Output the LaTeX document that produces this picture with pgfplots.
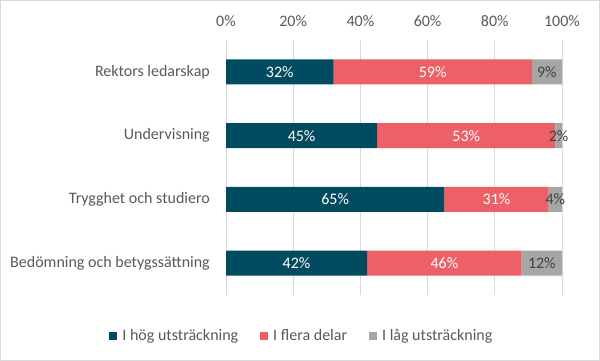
\documentclass[border=0pt]{standalone}
\usepackage{pgfplots}
\pgfplotsset{compat=1.18}
\usepackage{fontspec}
\setmainfont{Carlito}
\definecolor{cteal}{RGB}{0,75,95}
\definecolor{cred}{RGB}{238,96,103}
\definecolor{cgray}{RGB}{166,166,166}
\definecolor{ctext}{RGB}{89,89,89}
\definecolor{cgrid}{RGB}{217,217,217}
\pgfplotsset{
  common/.style={
    at={(226bp,66bp)}, anchor=south west, scale only axis,
    width=336bp, height=255bp,
    xmin=0, xmax=100, ymin=-0.5, ymax=3.5, y dir=reverse,
  }
}
\begin{document}
\fontsize{16bp}{19bp}\selectfont
\begin{tikzpicture}
\useasboundingbox (0,0) rectangle (600bp,361bp);
\draw[cgrid, line width=1bp] (0.5bp,0.5bp) rectangle (599.5bp,360.5bp);
\begin{axis}[common,
  xbar stacked, bar width=25bp,
  xtick={0,20,40,60,80,100},
  xticklabel={\pgfmathprintnumber{\tick}\%},
  xticklabel pos=upper,
  ytick={0,1,2,3},
  yticklabels={Rektors ledarskap,Undervisning,Trygghet och studiero,Bedömning och betygssättning},
  xmajorgrids, grid style={cgrid, line width=1bp},
  axis line style={draw=none},
  major tick length=0pt,
  tick label style={ctext, font=\fontsize{16bp}{19bp}\selectfont},
  /pgf/number format/assume math mode=true,
  xticklabel style={inner sep=0pt, yshift=13bp},
  yticklabel style={inner sep=0pt, xshift=-16bp},
  legend style={at={(0.226,-0.16)}, anchor=center, draw=none, fill=none,
    legend columns=3, font=\fontsize{16bp}{19bp}\selectfont, text=ctext,
    /tikz/every even column/.append style={column sep=20bp},
    legend cell align=left, inner sep=0pt},
  legend image code/.code={\fill[#1] (0bp,-4bp) rectangle (8bp,4bp); \path (11bp,0bp);},
]
\addplot[fill=cteal, draw=none] coordinates {(32,0) (45,1) (65,2) (42,3)};
\addplot[fill=cred, draw=none] coordinates {(59,0) (53,1) (31,2) (46,3)};
\addplot[fill=cgray, draw=none] coordinates {(9,0) (2,1) (4,2) (12,3)};
\legend{I hög utsträckning, I flera delar, I låg utsträckning}
\end{axis}
\begin{axis}[common, hide axis]
\addplot[draw=none, mark=none, nodes near coords, point meta=explicit symbolic,
  every node near coord/.append style={anchor=center, white, font=\fontsize{16bp}{19bp}\selectfont}]
  table[meta=l] {
x y l
16 0 32\%
22.5 1 45\%
32.5 2 65\%
21 3 42\%
61.5 0 59\%
71.5 1 53\%
80.5 2 31\%
65 3 46\%
};
\addplot[draw=none, mark=none, nodes near coords, point meta=explicit symbolic,
  every node near coord/.append style={anchor=center, black!75, font=\fontsize{16bp}{19bp}\selectfont}]
  table[meta=l] {
x y l
95.5 0 9\%
99 1 2\%
98 2 4\%
94 3 12\%
};
\end{axis}
\end{tikzpicture}
\end{document}
